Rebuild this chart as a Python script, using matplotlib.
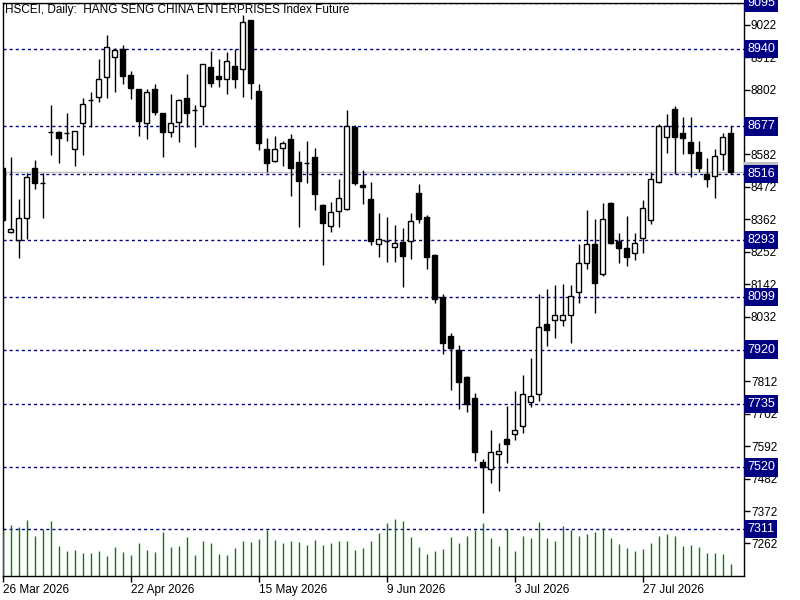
import matplotlib
matplotlib.use("Agg")
import matplotlib.pyplot as plt
import matplotlib.transforms as mtransforms

plt.rcParams['font.family'] = ['Liberation Sans', 'DejaVu Sans']

title = "HSCEI, Daily:  HANG SENG CHINA ENTERPRISES Index Future"

opens = [8536, 8318, 8292, 8365, 8535, 8484, 8657, 8657, 8656, 8600,
         8688, 8767, 8776, 8844, 8912, 8939, 8852, 8803, 8688, 8803,
         8722, 8657, 8691, 8773, 8732, 8746, 8878, 8847, 8837, 8881,
         8871, 9038, 8797, 8600, 8561, 8603, 8634, 8555, 8552, 8572,
         8411, 8340, 8391, 8397, 8676, 8478, 8431, 8277, 8289, 8267,
         8284, 8289, 8452, 8371, 8241, 8097, 7966, 7918, 7827, 7756,
         7537, 7513, 7565, 7615, 7635, 7659, 7741, 7768, 8007, 8019,
         8019, 8036, 8114, 8213, 8277, 8175, 8416, 8288, 8264, 8247,
         8298, 8360, 8488, 8640, 8736, 8654, 8623, 8589, 8515, 8509,
         8583, 8654]
highs = [8540, 8574, 8431, 8518, 8563, 8518, 8750, 8660, 8722, 8661,
         8773, 8793, 8905, 8988, 8942, 8954, 8865, 8805, 8803, 8820,
         8724, 8786, 8770, 8855, 8749, 8890, 8933, 8905, 8929, 8939,
         9055, 9040, 8820, 8637, 8645, 8629, 8650, 8594, 8628, 8605,
         8415, 8422, 8499, 8733, 8682, 8529, 8488, 8384, 8369, 8343,
         8331, 8384, 8482, 8377, 8245, 8107, 7977, 7935, 7829, 7771,
         7548, 7647, 7602, 7728, 7779, 7834, 7892, 8108, 8125, 8139,
         8142, 8139, 8278, 8394, 8363, 8418, 8422, 8314, 8373, 8314,
         8427, 8522, 8685, 8719, 8747, 8708, 8708, 8628, 8569, 8601,
         8654, 8680]
lows = [8355, 8316, 8232, 8295, 8464, 8367, 8580, 8554, 8629, 8544,
        8580, 8676, 8761, 8775, 8795, 8820, 8770, 8645, 8634, 8717,
        8574, 8640, 8625, 8676, 8606, 8682, 8810, 8812, 8787, 8809,
        8776, 8769, 8597, 8524, 8558, 8544, 8442, 8337, 8486, 8394,
        8207, 8318, 8337, 8394, 8478, 8414, 8275, 8235, 8218, 8218,
        8131, 8226, 8348, 8192, 8079, 7905, 7783, 7718, 7709, 7543,
        7364, 7468, 7441, 7536, 7613, 7638, 7724, 7746, 7933, 7960,
        8001, 7943, 8079, 8192, 8043, 8170, 8277, 8213, 8205, 8224,
        8247, 8345, 8485, 8588, 8516, 8584, 8507, 8524, 8470, 8435,
        8529, 8516]
closes = [8360, 8328, 8365, 8505, 8484, 8484, 8657, 8637, 8656, 8661,
          8752, 8767, 8837, 8946, 8937, 8849, 8807, 8697, 8793, 8727,
          8657, 8688, 8767, 8722, 8732, 8888, 8824, 8837, 8898, 8837,
          9033, 8824, 8622, 8552, 8600, 8620, 8535, 8493, 8552, 8448,
          8348, 8386, 8433, 8679, 8486, 8471, 8289, 8294, 8289, 8280,
          8238, 8356, 8362, 8233, 8090, 7941, 7926, 7811, 7734, 7573,
          7520, 7573, 7575, 7598, 7646, 7768, 7761, 7995, 7987, 8036,
          8036, 8102, 8213, 8277, 8145, 8362, 8283, 8264, 8235, 8281,
          8399, 8498, 8679, 8680, 8640, 8637, 8586, 8535, 8498, 8578,
          8640, 8524]
volumes = [46, 51, 49, 56, 40, 47, 55, 30, 25, 26,
           23, 23, 25, 20, 29, 24, 21, 33, 26, 24,
           44, 29, 30, 39, 21, 35, 33, 22, 21, 28,
           35, 34, 37, 46, 36, 33, 35, 34, 31, 36,
           31, 33, 35, 35, 26, 28, 35, 43, 53, 57,
           55, 39, 29, 22, 25, 27, 39, 33, 40, 46,
           53, 38, 30, 47, 25, 40, 38, 54, 38, 35,
           50, 46, 40, 42, 44, 48, 38, 32, 28, 25,
           27, 33, 40, 42, 40, 30, 31, 29, 23, 23,
           22, 12]

levels = [9095, 8940, 8677, 8516, 8293, 8099, 7920, 7735, 7520, 7311]
last_price = 8524
price_ticks = [7262 + 110 * k for k in range(17)]
date_pos = [0, 16, 32, 48, 64, 80]
date_labels = ["26 Mar 2026", "22 Apr 2026", "15 May 2026",
               "9 Jun 2026", "3 Jul 2026", "27 Jul 2026"]

W, H = 800, 600
fig = plt.figure(figsize=(8, 6), dpi=100)
ax = fig.add_axes([2.5 / W, 24 / H, 741.5 / W, 573.5 / H])

n = len(opens)
idx = list(range(n))

# volume underlay
axv = ax.twinx()
axv.set_ylim(0, 573.5)
axv.vlines(idx, 0, volumes, color='#008000', lw=1)
axv.axis('off')

# levels
for lv in levels:
    ax.axhline(lv, color='#000080', lw=1, ls=(0, (2.2, 2.2)), zorder=1)
ax.axhline(last_price, color='#c0c0c0', lw=1, zorder=1)

# candles
ax.vlines(idx, lows, highs, color='black', lw=1, zorder=2)
for i in idx:
    o, c = opens[i], closes[i]
    fc = 'white' if c >= o else 'black'
    ax.bar(i, abs(c - o), bottom=min(o, c), width=0.6, facecolor=fc,
           edgecolor='black', lw=1, zorder=3)

ax.set_xlim(-0.025, 92.66)
ax.set_ylim(7151.4, 9097.8)

ax.yaxis.tick_right()
ax.set_yticks(price_ticks)
ax.set_yticklabels([str(t) for t in price_ticks])
ax.set_xticks(date_pos)
ax.set_xticklabels(date_labels, ha='left')
ax.tick_params(axis='both', direction='out', length=4, width=1,
               labelsize=8.5, colors='black')
ax.tick_params(axis='y', pad=1)
ax.tick_params(axis='x', pad=2)
for sp in ax.spines.values():
    sp.set_linewidth(1)

trans = mtransforms.blended_transform_factory(ax.transAxes, ax.transData)
ax.text(1.0045, last_price, str(last_price), transform=trans, ha='left',
        va='center', fontsize=9, color='black', zorder=5, clip_on=False,
        bbox=dict(boxstyle='square,pad=0.25', fc='#c0c0c0', ec='none'))
for lv in levels:
    ax.text(1.0045, lv, str(lv), transform=trans, ha='left', va='center',
            fontsize=9, color='white', zorder=6, clip_on=False,
            bbox=dict(boxstyle='square,pad=0.25', fc='#000080', ec='none'))

fig.text(5 / W, 1 - 4 / H, title, ha='left', va='top', fontsize=8.5,
         color='black')

fig.savefig('out.png', dpi=100)
